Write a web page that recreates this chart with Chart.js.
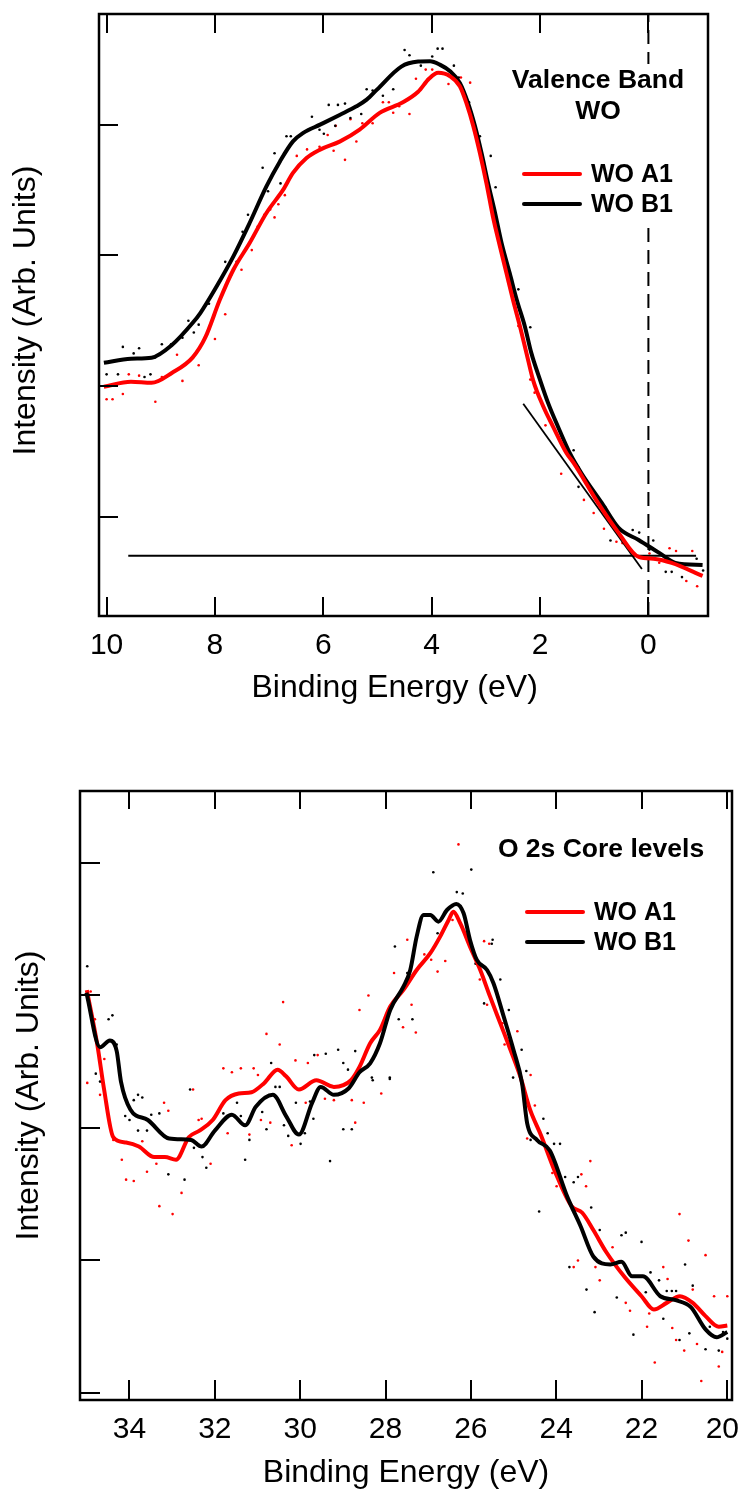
<!DOCTYPE html>
<html><head><meta charset="utf-8">
<script src="https://cdn.jsdelivr.net/npm/chart.js@4.4.1/dist/chart.umd.min.js"></script>
<style>
html,body{margin:0;padding:0;background:#fff;}
#wrap{position:relative;width:738px;height:1494px;overflow:hidden;background:#fff;}
canvas{position:absolute;left:0;}
#c1{top:0;}
#c2{top:740px;}
</style></head><body>
<div id="wrap"><canvas id="c1" width="738" height="740"></canvas><canvas id="c2" width="738" height="754"></canvas></div>
<script>
// ---------------- Valence band (top) ----------------
const vbXTicks = [10, 8, 6, 4, 2, 0];
const vbYTicks = [1, 2, 3, 4];
const vbXRange = [-1.10, 10.14];
const vbYRange = [0.2425, 4.845];

const vbEnergyA = [10.05, 9.55, 9.17, 8.79, 8.41, 8.18, 7.91, 7.66, 7.36, 7.05, 6.74, 6.56, 6.31, 6.06, 5.69, 5.33, 4.96, 4.53, 4.25, 4.05, 3.88, 3.66, 3.48, 3.36, 3.23, 3.11, 2.99, 2.87, 2.74, 2.62, 2.50, 2.37, 2.25, 2.13, 1.94, 1.76, 1.51, 1.38, 0.93, 0.55, 0.18, -0.13, -0.43, -1.0];
const vbIntensityA = [1.995, 2.033, 2.025, 2.102, 2.22, 2.37, 2.66, 2.89, 3.094, 3.324, 3.502, 3.63, 3.744, 3.808, 3.871, 3.961, 4.089, 4.17, 4.25, 4.35, 4.395, 4.369, 4.292, 4.165, 3.986, 3.782, 3.553, 3.297, 3.068, 2.864, 2.660, 2.456, 2.252, 2.048, 1.844, 1.691, 1.487, 1.413, 1.107, 0.878, 0.694, 0.679, 0.648, 0.549];

const vbEnergyB = [10.05, 9.55, 9.17, 8.79, 8.41, 8.27, 7.97, 7.66, 7.36, 7.05, 6.80, 6.56, 6.37, 6.06, 5.69, 5.39, 5.20, 5.01, 4.56, 4.25, 4.03, 3.85, 3.66, 3.48, 3.33, 3.20, 3.08, 2.96, 2.83, 2.71, 2.56, 2.43, 2.28, 2.16, 2.00, 1.85, 1.67, 1.45, 1.23, 0.86, 0.55, 0.18, -0.2, -0.5, -1.0];
const vbIntensityB = [2.178, 2.209, 2.217, 2.316, 2.484, 2.559, 2.762, 2.992, 3.247, 3.527, 3.718, 3.871, 3.936, 3.999, 4.075, 4.139, 4.19, 4.267, 4.443, 4.481, 4.484, 4.458, 4.407, 4.318, 4.165, 3.986, 3.782, 3.553, 3.324, 3.094, 2.864, 2.660, 2.456, 2.252, 2.048, 1.870, 1.691, 1.487, 1.33, 1.107, 0.916, 0.824, 0.725, 0.648, 0.633];

const vbDotsAE = [4.29,4.11,3.99,3.69,3.46,3.29,4.90,4.79,4.71,4.60,4.41,5.28,5.09,5.50,5.77,5.92,6.07,5.81,5.60,5.39,6.49,6.30,6.71,6.83,6.98,6.90,7.09,7.21,7.32,2.77,
  10.00,9.89,9.70,9.59,9.40,9.10,8.98,8.60,8.70,8.30,8.19,8.00,7.81,7.70,7.51,
  2.40,2.18,2.10,1.90,1.61,1.29,1.19,1.01,0.82,0.59,0.48,-0.02,-0.20,-0.39,-0.51,-0.62,-0.81,-0.70,-0.90];
const vbDotsAI = [4.35,4.42,4.42,4.31,4.36,4.32,4.17,4.17,4.09,4.14,4.08,4.01,4.01,4.04,3.99,3.92,3.83,3.80,3.73,3.87,3.76,3.81,3.46,3.39,3.35,3.29,3.31,3.22,3.04,3.17,
  1.90,1.90,1.94,2.09,2.08,1.88,2.07,2.04,2.24,2.16,2.37,2.36,2.55,2.85,2.89,
  2.46,2.05,1.95,1.70,1.33,1.38,1.13,1.03,0.91,0.81,0.80,0.72,0.65,0.76,0.74,0.62,0.74,0.51,0.47];
const vbDotsBE = [4.50,4.41,3.99,3.89,3.80,3.59,3.50,3.31,5.20,5.09,4.90,4.71,4.20,5.90,5.73,5.60,6.21,6.07,5.99,5.78,5.50,5.30,6.60,6.68,6.90,7.12,7.02,6.79,7.39,7.49,7.28,3.11,2.91,2.82,2.90,
  10.00,9.79,9.70,9.50,9.40,9.30,9.19,9.10,8.98,8.81,8.60,8.49,8.39,8.30,8.11,7.81,7.60,
  2.40,2.18,1.38,1.29,1.01,0.79,0.70,0.29,0.17,-0.09,-0.02,-0.32,-0.43,-0.62,-0.89,-1.01];
const vbDotsBI = [4.57,4.53,4.52,4.58,4.58,4.45,4.36,4.17,4.27,4.26,4.22,4.27,4.45,4.15,4.15,4.16,4.06,3.96,3.93,3.99,4.05,4.08,3.91,3.91,3.78,3.67,3.49,3.55,3.31,3.18,3.15,3.91,3.76,3.52,3.37,
  2.09,2.09,2.30,2.25,2.29,2.07,2.09,2.22,2.32,2.32,2.37,2.50,2.41,2.47,2.63,2.95,2.95,
  2.74,2.45,1.51,1.23,1.19,1.07,0.82,0.90,0.88,0.82,0.75,0.58,0.58,0.54,0.68,0.59];

const vbBaselineE = [9.6, -0.88];
const vbBaselineI = [0.704, 0.704];
const vbTangentE = [2.31, 0.12];
const vbTangentI = [1.865, 0.602];
const vbZeroE = [0, 0];

// ---------------- O 2s core levels (bottom) ----------------
const o2sXTicks = [34, 32, 30, 28, 26, 24, 22, 20];
const o2sYTicks = [0, 1, 2, 3, 4];
const o2sXRange = [19.88, 35.16];
const o2sYRange = [-0.053, 4.543];

const o2sEnergyA = [35.00, 34.75, 34.60, 34.38, 34.08, 33.78, 33.42, 33.17, 32.91, 32.61, 32.36, 32.05, 31.75, 31.44, 31.14, 30.84, 30.53, 30.33, 30.03, 29.62, 29.21, 28.81, 28.61, 28.36, 28.13, 27.89, 27.58, 27.27, 26.95, 26.72, 26.52, 26.41, 26.25, 26.02, 25.78, 25.55, 25.31, 25.07, 24.84, 24.61, 24.35, 24.04, 23.64, 23.39, 23.13, 22.82, 22.41, 22.00, 21.71, 21.41, 21.10, 20.80, 20.50, 20.19, 19.99];
const o2sIntensityA = [3.04, 2.62, 2.30, 1.93, 1.89, 1.86, 1.78, 1.78, 1.76, 1.93, 1.98, 2.06, 2.21, 2.26, 2.27, 2.34, 2.44, 2.39, 2.29, 2.36, 2.31, 2.36, 2.46, 2.639, 2.740, 2.916, 3.042, 3.192, 3.319, 3.444, 3.570, 3.632, 3.545, 3.368, 3.192, 2.991, 2.790, 2.589, 2.387, 2.136, 1.94, 1.68, 1.41, 1.36, 1.23, 1.06, 0.88, 0.73, 0.63, 0.68, 0.73, 0.68, 0.58, 0.50, 0.51];

const o2sEnergyB = [35.01, 34.69, 34.46, 34.30, 34.20, 33.98, 33.57, 33.07, 32.56, 32.31, 32.00, 31.60, 31.29, 31.04, 30.64, 30.33, 30.03, 29.72, 29.52, 29.21, 28.86, 28.61, 28.36, 28.13, 27.89, 27.58, 27.42, 27.27, 27.11, 26.95, 26.76, 26.56, 26.34, 26.17, 26.02, 25.86, 25.62, 25.47, 25.23, 25.00, 24.80, 24.68, 24.45, 24.15, 23.74, 23.43, 23.13, 22.73, 22.47, 22.22, 21.97, 21.56, 21.20, 20.85, 20.50, 20.24, 19.99];
const o2sIntensityB = [3.02, 2.61, 2.66, 2.58, 2.35, 2.14, 2.06, 1.92, 1.91, 1.86, 1.98, 2.10, 2.02, 2.16, 2.25, 2.09, 1.95, 2.19, 2.31, 2.25, 2.30, 2.42, 2.488, 2.639, 2.891, 3.066, 3.192, 3.444, 3.608, 3.608, 3.557, 3.645, 3.691, 3.620, 3.419, 3.268, 3.192, 3.092, 2.840, 2.589, 2.337, 2.035, 1.91, 1.83, 1.48, 1.26, 1.03, 0.97, 0.99, 0.88, 0.88, 0.73, 0.70, 0.65, 0.48, 0.42, 0.46];

const o2sDotsAE = [26.29,27.49,27.80,28.40,28.61,27.59,27.29,27.39,27.09,26.78,26.93,26.60,26.43,25.69,25.57,25.79,25.62,25.21,24.91,24.60,25.26,30.79,30.48,30.40,31.80,31.60,31.39,31.09,30.99,30.11,29.82,29.59,34.91,34.81,34.59,
  34.99,34.69,34.38,34.18,34.08,33.90,33.70,33.59,33.37,33.30,33.19,33.09,32.99,32.78,32.51,32.38,32.31,32.10,31.70,31.19,30.92,30.70,30.20,29.87,29.42,29.21,28.79,28.71,28.51,28.10,
  24.68,24.50,24.09,23.99,23.59,23.49,23.41,23.30,23.20,22.98,23.08,22.68,22.37,22.27,21.87,21.82,21.69,21.49,21.39,21.28,21.19,21.11,21.00,20.90,20.80,20.70,20.60,20.50,20.30,20.19,20.11,19.99];
const o2sDotsAI = [4.14,3.42,3.17,3.00,2.89,2.76,2.72,2.93,3.31,3.18,3.27,3.26,3.57,3.41,3.39,3.12,2.93,2.63,2.73,2.40,2.79,2.71,2.63,2.95,2.45,2.42,2.45,2.45,2.40,2.51,2.49,2.55,3.03,2.82,2.52,
  2.34,2.25,1.91,1.76,1.61,1.60,1.90,1.67,1.73,1.41,2.19,2.13,1.35,1.51,2.29,2.06,2.07,1.73,1.96,1.95,2.06,2.04,1.87,2.19,2.22,2.21,2.21,2.04,2.19,2.26,
  1.92,2.17,1.66,1.56,0.95,1.00,1.65,1.56,1.75,0.85,0.95,1.10,0.68,0.62,0.50,0.60,0.23,0.95,0.86,0.49,0.40,1.35,0.32,1.15,0.78,0.37,0.09,1.04,0.73,0.20,0.31,0.73];
const o2sDotsBE = [25.99,26.88,26.33,26.19,26.78,27.78,27.49,27.69,27.37,25.49,25.51,25.89,25.69,25.31,25.11,24.81,25.01,29.11,29.40,29.67,28.99,28.71,28.32,27.90,30.68,34.99,34.49,34.40,34.30,34.79,
  34.69,34.10,34.00,33.90,33.80,33.70,33.80,33.59,33.49,33.30,33.09,32.71,32.58,32.49,32.29,32.20,31.80,31.48,31.39,31.29,31.19,30.89,30.79,30.58,30.48,30.38,30.28,30.10,29.99,29.89,29.77,29.69,29.30,28.99,28.79,28.88,28.30,27.90,
  24.70,24.60,24.40,24.30,24.20,24.05,23.91,23.79,23.59,23.49,23.69,23.29,23.18,23.10,22.98,22.58,22.47,22.37,22.19,22.00,21.90,21.79,21.59,21.49,21.41,21.29,21.19,21.11,20.98,20.88,20.80,20.50,20.40,20.19,20.09,19.99];
const o2sDotsBI = [3.95,3.93,3.78,3.77,3.47,3.37,3.17,2.82,2.82,3.42,3.39,3.24,2.94,3.12,2.89,2.59,2.38,2.59,2.56,2.55,2.49,2.58,2.38,2.38,2.49,3.22,2.82,2.85,2.63,2.41,
  2.35,2.09,2.06,2.21,2.25,2.23,1.98,1.98,2.10,2.11,1.65,1.61,2.29,1.85,1.78,1.70,2.11,2.19,2.09,1.76,1.91,2.12,1.99,2.31,2.31,2.02,1.94,2.19,1.88,1.96,2.20,2.07,1.75,1.99,1.99,2.44,2.36,2.37,
  2.43,1.91,1.37,2.07,1.96,1.88,1.88,1.63,1.59,1.63,0.95,0.78,1.40,0.61,1.23,0.72,1.19,1.21,0.44,1.14,0.76,0.91,0.85,0.56,0.77,0.77,0.77,0.40,0.97,0.45,0.81,0.33,0.50,0.32,0.46,0.41];

const seriesLabels = ['WO A1', 'WO B1'];
const seriesColors = ['#ff0000', '#000000'];

// ---------------- helpers ----------------
const FONT = "'Liberation Sans', Arial, Helvetica, sans-serif";
Chart.defaults.font.family = FONT;
Chart.defaults.color = '#000';

function pts(xs, ys) { return xs.map((x, i) => ({x: x, y: ys[i]})); }

const decoPlugin = {
  id: 'deco',
  afterDatasetsDraw(chart, args, o) {
    const ctx = chart.ctx;
    const {left, right, top, bottom} = chart.chartArea;
    const xs = chart.scales.x, ys = chart.scales.y;
    ctx.save();
    if (o.box) { ctx.fillStyle = '#fff'; ctx.fillRect(o.box[0], o.box[1], o.box[2], o.box[3]); }
    ctx.fillStyle = '#000';
    ctx.textBaseline = 'middle';
    ctx.textAlign = 'center';
    ctx.font = o.noteFont;
    o.note.forEach((t, i) => ctx.fillText(t, o.noteX, o.noteY + i * o.noteGap));
    ctx.font = o.legendFont;
    ctx.textAlign = 'left';
    o.legendItems.forEach((idx, i) => {
      const ds = chart.data.datasets[idx];
      const y = o.legendY + i * o.legendGap;
      ctx.strokeStyle = ds.borderColor;
      ctx.lineWidth = ds.borderWidth;
      ctx.lineCap = 'round';
      ctx.beginPath(); ctx.moveTo(o.legendX, y); ctx.lineTo(o.legendX + o.legendLen, y); ctx.stroke();
      ctx.fillStyle = '#000';
      ctx.fillText(ds.label, o.legendX + o.legendLen + o.legendTextGap, y + 1);
    });
    // x tick labels (kept inside the canvas at the right edge)
    ctx.font = o.tickFont;
    ctx.textAlign = 'center';
    ctx.fillStyle = '#000';
    xs.ticks.forEach(t => {
      const lbl = t.label != null ? String(t.label) : String(t.value);
      const px = xs.getPixelForValue(t.value);
      const w = ctx.measureText(lbl).width;
      const cx = Math.min(px, chart.width - w / 2 + 1);
      ctx.fillText(lbl, cx, bottom + o.tickLabelOffset);
    });
    // ticks and frame
    ctx.lineCap = 'butt';
    ctx.strokeStyle = '#000';
    ctx.lineWidth = o.tickWidth;
    ctx.beginPath();
    xs.ticks.forEach(t => {
      const px = Math.round(xs.getPixelForValue(t.value));
      ctx.moveTo(px, bottom); ctx.lineTo(px, bottom - o.tickLenBottom);
      ctx.moveTo(px, top); ctx.lineTo(px, top + o.tickLenTop);
    });
    ys.ticks.forEach(t => {
      const py = Math.round(ys.getPixelForValue(t.value));
      ctx.moveTo(left, py); ctx.lineTo(left + o.tickLenY, py);
    });
    ctx.stroke();
    ctx.lineWidth = o.frameWidth;
    ctx.strokeRect(left, top, right - left, bottom - top);
    ctx.restore();
  }
};

function makeScales(cfg) {
  return {
    x: {
      type: 'linear', reverse: true, min: cfg.xRange[0], max: cfg.xRange[1],
      afterBuildTicks: s => { s.ticks = cfg.xTicks.map(v => ({value: v})); },
      afterFit: s => { s.height = cfg.xHeight; s.paddingLeft = 0; s.paddingRight = 0; },
      grid: {display: false, drawTicks: false}, border: {display: false},
      ticks: {display: false, autoSkip: false, callback: v => String(v)},
      title: {display: true, text: cfg.xTitle, font: {size: 32}, color: '#000', padding: {top: 0, bottom: cfg.xTitlePad}}
    },
    y: {
      type: 'linear', min: cfg.yRange[0], max: cfg.yRange[1],
      afterBuildTicks: s => { s.ticks = cfg.yTicks.map(v => ({value: v})); },
      afterFit: s => { s.width = cfg.yWidth; s.paddingTop = 0; s.paddingBottom = 0; },
      grid: {display: false, drawTicks: false}, border: {display: false},
      ticks: {display: false},
      title: {display: true, text: cfg.yTitle, font: {size: 32}, color: '#000', padding: {top: cfg.yTitlePad, bottom: 0}}
    }
  };
}

function curve(label, color, data, order) {
  return {label: label, data: data, borderColor: color, backgroundColor: color, borderWidth: 4,
    pointRadius: 0, showLine: true, fill: false, cubicInterpolationMode: 'monotone', order: order};
}
function dots(label, color, data, order) {
  return {label: label, data: data, borderColor: color, backgroundColor: color, showLine: false,
    pointRadius: 1.3, pointBorderWidth: 0, pointStyle: 'circle', order: order};
}
function straight(data, width, dash, order) {
  return {label: '', data: data, borderColor: '#000', borderWidth: width, borderDash: dash || [],
    pointRadius: 0, showLine: true, fill: false, tension: 0, order: order};
}

// ---------------- top chart ----------------
new Chart(document.getElementById('c1'), {
  type: 'line',
  data: {datasets: [
    curve(seriesLabels[0], seriesColors[0], pts(vbEnergyA, vbIntensityA), 1),
    curve(seriesLabels[1], seriesColors[1], pts(vbEnergyB, vbIntensityB), 2),
    straight(pts(vbBaselineE, vbBaselineI), 2, null, 3),
    straight(pts(vbTangentE, vbTangentI), 1.8, null, 3),
    dots('A dots', seriesColors[0], pts(vbDotsAE, vbDotsAI), 5),
    dots('B dots', seriesColors[1], pts(vbDotsBE, vbDotsBI), 4),
    straight(pts(vbZeroE, vbYRange), 2, [14, 8], 6)
  ]},
  options: {
    responsive: false, animation: false, devicePixelRatio: 1,
    layout: {padding: {top: 14, right: 30, left: 0, bottom: 0}},
    plugins: {
      legend: {display: false}, tooltip: {enabled: false},
      deco: {
        box: [508, 64, 192, 156],
        note: ['Valence Band', 'WO'], noteFont: 'bold 26.5px ' + FONT, noteX: 598, noteY: 81, noteGap: 31,
        legendItems: [0, 1], legendFont: 'bold 25px ' + FONT, legendX: 524, legendY: 174, legendGap: 30, legendLen: 56, legendTextGap: 11,
        tickFont: '30px ' + FONT, tickLabelOffset: 30,
        tickWidth: 2, tickLenBottom: 19, tickLenTop: 19, tickLenY: 19, frameWidth: 2.5
      }
    },
    scales: makeScales({xRange: vbXRange, yRange: vbYRange, xTicks: vbXTicks, yTicks: vbYTicks,
      xTitle: 'Binding Energy (eV)  ', yTitle: ' Intensity (Arb. Units)',
      xHeight: 124, yWidth: 99, xTitlePad: 33, yTitlePad: 7})
  },
  plugins: [decoPlugin]
});

// ---------------- bottom chart ----------------
new Chart(document.getElementById('c2'), {
  type: 'line',
  data: {datasets: [
    curve(seriesLabels[0], seriesColors[0], pts(o2sEnergyA, o2sIntensityA), 2),
    curve(seriesLabels[1], seriesColors[1], pts(o2sEnergyB, o2sIntensityB), 1),
    dots('A dots', seriesColors[0], pts(o2sDotsAE, o2sDotsAI), 5),
    dots('B dots', seriesColors[1], pts(o2sDotsBE, o2sDotsBI), 4)
  ]},
  options: {
    responsive: false, animation: false, devicePixelRatio: 1,
    layout: {padding: {top: 51, right: 6, left: 0, bottom: 0}},
    plugins: {
      legend: {display: false}, tooltip: {enabled: false},
      deco: {
        box: null,
        note: ['O 2s Core levels'], noteFont: 'bold 26.5px ' + FONT, noteX: 601, noteY: 110, noteGap: 30,
        legendItems: [0, 1], legendFont: 'bold 25px ' + FONT, legendX: 527, legendY: 172, legendGap: 30, legendLen: 56, legendTextGap: 11,
        tickFont: '30px ' + FONT, tickLabelOffset: 30,
        tickWidth: 2, tickLenBottom: 20, tickLenTop: 18, tickLenY: 20, frameWidth: 2.5
      }
    },
    scales: makeScales({xRange: o2sXRange, yRange: o2sYRange, xTicks: o2sXTicks, yTicks: o2sYTicks,
      xTitle: 'Binding Energy (eV)', yTitle: 'Intensity (Arb. Units)',
      xHeight: 94, yWidth: 80, xTitlePad: 2, yTitlePad: 10})
  },
  plugins: [decoPlugin]
});
</script>
</body></html>
